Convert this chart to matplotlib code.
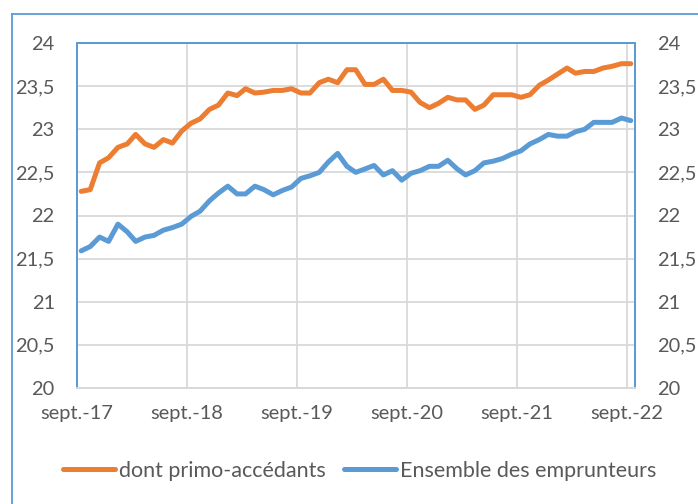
import matplotlib

matplotlib.use("Agg")
import matplotlib.pyplot as plt
import pandas as pd
from matplotlib.lines import Line2D

BLUE = "#5B9BD5"
ORANGE = "#ED7D31"
GRID = "#D9D9D9"
TEXT = "#595959"

# monthly values, sept. 2017 -> sept. 2022
months = pd.date_range("2017-09-01", "2022-09-01", freq="MS") + pd.Timedelta(days=14)

primo = [
    22.28, 22.30, 22.61, 22.67, 22.79, 22.83, 22.94, 22.83, 22.79, 22.88, 22.84, 22.98,
    23.07, 23.12, 23.23, 23.28, 23.42, 23.39, 23.47, 23.42, 23.43, 23.45, 23.45, 23.47,
    23.42, 23.42, 23.54, 23.58, 23.54, 23.69, 23.69, 23.52, 23.52, 23.58, 23.45, 23.45,
    23.43, 23.31, 23.25, 23.30, 23.37, 23.34, 23.34, 23.23, 23.28, 23.40, 23.40, 23.40,
    23.37, 23.40, 23.51, 23.57, 23.64, 23.71, 23.65, 23.67, 23.67, 23.71, 23.73, 23.76,
    23.76,
]
ensemble = [
    21.59, 21.64, 21.75, 21.70, 21.90, 21.81, 21.70, 21.75, 21.77, 21.83, 21.86, 21.90,
    21.99, 22.05, 22.17, 22.26, 22.34, 22.25, 22.25, 22.34, 22.30, 22.24, 22.29, 22.33,
    22.43, 22.46, 22.50, 22.62, 22.72, 22.57, 22.50, 22.54, 22.58, 22.47, 22.52, 22.41,
    22.49, 22.52, 22.57, 22.57, 22.64, 22.54, 22.47, 22.52, 22.61, 22.63, 22.66, 22.71,
    22.75, 22.83, 22.88, 22.94, 22.92, 22.92, 22.97, 23.00, 23.08, 23.08, 23.08, 23.13,
    23.10,
]
tick_dates = pd.date_range("2017-09-01", "2022-09-01", freq="12MS")
tick_labels = ["sept.-17", "sept.-18", "sept.-19", "sept.-20", "sept.-21", "sept.-22"]
y_ticks = [20, 20.5, 21, 21.5, 22, 22.5, 23, 23.5, 24]
series_labels = ["dont primo-accédants", "Ensemble des emprunteurs"]

plt.rcParams["font.family"] = ["Lato", "DejaVu Sans"]

fig = plt.figure(figsize=(6.98, 5.04), dpi=100, facecolor="white")
ax = fig.add_axes([77 / 698, 1 - 388 / 504, 558 / 698, 345 / 504])

ax.plot(months, primo, color=ORANGE, linewidth=3.6, solid_capstyle="round", solid_joinstyle="round")
ax.plot(months, ensemble, color=BLUE, linewidth=3.6, solid_capstyle="round", solid_joinstyle="round")

ax.set_ylim(20, 24)
ax.set_xlim(pd.Timestamp("2017-09-01"), pd.Timestamp("2022-09-29"))
ax.set_xticks(tick_dates)
ax.set_xticklabels(tick_labels)
ax.set_yticks(y_ticks)
ylabels = [f"{v:g}".replace(".", ",") for v in y_ticks]
ax.set_yticklabels(ylabels)
ax.grid(True, color=GRID, linewidth=1.3)
ax.set_axisbelow(True)
ax.tick_params(length=0, colors=TEXT, labelsize=14.4)
ax.tick_params(axis="x", pad=12)
ax.tick_params(axis="y", pad=16)

ax2 = ax.twinx()
ax2.set_ylim(20, 24)
ax2.set_yticks(y_ticks)
ax2.set_yticklabels(ylabels)
ax2.tick_params(length=0, colors=TEXT, labelsize=14.4, pad=16)

for a in (ax, ax2):
    for side in ("left", "top", "right"):
        a.spines[side].set_color(BLUE)
        a.spines[side].set_linewidth(1.3)
    a.spines["bottom"].set_color(GRID)
    a.spines["bottom"].set_linewidth(1.3)

# outer chart border (left and top only visible)
fig.add_artist(Line2D([12 / 698, 12 / 698], [0, 1 - 14 / 504], transform=fig.transFigure, color=BLUE, linewidth=1.3))
fig.add_artist(Line2D([12 / 698, 1], [1 - 14 / 504, 1 - 14 / 504], transform=fig.transFigure, color=BLUE, linewidth=1.3))

handles = [Line2D([], [], color=ORANGE, linewidth=3.6, solid_capstyle="round"),
           Line2D([], [], color=BLUE, linewidth=3.6, solid_capstyle="round")]
leg = fig.legend(handles, series_labels, loc="center", bbox_to_anchor=(360 / 698, 1 - 471 / 504),
                 ncol=2, frameon=False, fontsize=15.5, handlelength=2.4, handletextpad=0.2,
                 columnspacing=0.85, labelcolor=TEXT)

fig.savefig("out.png", dpi=100, facecolor="white")
